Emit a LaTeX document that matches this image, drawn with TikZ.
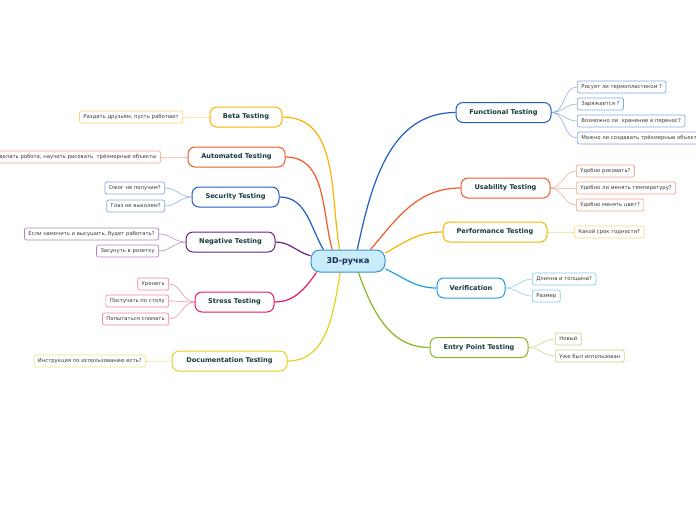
\documentclass[tikz,border=0pt]{standalone}
\usepackage{fontspec}
\setmainfont{DejaVu Sans}
\usetikzlibrary{backgrounds}
\definecolor{cblue}{HTML}{1F5FC4}
\definecolor{corange}{HTML}{F05A28}
\definecolor{camber}{HTML}{F8B400}
\definecolor{csky}{HTML}{20A0E8}
\definecolor{cgreen}{HTML}{88B820}
\definecolor{cpurple}{HTML}{6A2080}
\definecolor{cpink}{HTML}{E8186A}
\definecolor{cyellow}{HTML}{E8D020}
\definecolor{cfill}{HTML}{C8ECFA}
\definecolor{cborder}{HTML}{3A90D0}
\definecolor{maintext}{HTML}{143C3C}
\definecolor{leaftext}{HTML}{3A3A3A}
\definecolor{centertext}{HTML}{1A2A50}
\newcommand\mainfnt{\fontsize{6.6}{7.5}\selectfont\bfseries}
\newcommand\leaffnt{\fontsize{5.3}{6.3}\selectfont}
\tikzset{
  mainbox/.style={draw=#1, line width=1pt, rounded corners=7pt, fill=white, minimum height=20pt, inner sep=0pt, font=\mainfnt, text=maintext},
  leafbox/.style={draw=#1!55, line width=0.7pt, rounded corners=2pt, fill=white, minimum height=12pt, inner xsep=4pt, inner ysep=0pt, font=\leaffnt, text=leaftext},
  mainlink/.style={draw=#1, line width=1.2pt},
  leaflink/.style={draw=#1!50, line width=0.6pt},
  centerbox/.style={draw=cborder, line width=1pt, rounded corners=9pt, fill=cfill, minimum width=74pt, minimum height=22pt, inner sep=0pt, font=\fontsize{8}{9}\selectfont\bfseries, text=centertext}
}
\begin{document}
\begin{tikzpicture}[x=1pt,y=1pt]
\useasboundingbox (0,0) rectangle (696,-520);

% central node
\node[centerbox] (C) at (348,-261) {3D-ручка};

% main nodes
\node[mainbox=cblue, minimum width=95pt] (F) at (503.5,-112.5) {Functional Testing};
\node[mainbox=corange, minimum width=89pt] (U) at (505.5,-188) {Usability Testing};
\node[mainbox=camber, minimum width=104pt] (P) at (495,-232) {Performance Testing};
\node[mainbox=csky, minimum width=68pt] (V) at (471,-288) {Verification};
\node[mainbox=cgreen, minimum width=98pt] (E) at (479,-347.5) {Entry Point Testing};
\node[mainbox=camber, minimum width=72pt] (B) at (246,-117) {Beta Testing};
\node[mainbox=corange, minimum width=97pt] (A) at (236.5,-157) {Automated Testing};
\node[mainbox=cblue, minimum width=87pt] (S) at (235.5,-197) {Security Testing};
\node[mainbox=cpurple, minimum width=89pt] (N) at (230.5,-242) {Negative Testing};
\node[mainbox=cpink, minimum width=79pt] (St) at (234.5,-302) {Stress Testing};
\node[mainbox=cyellow, minimum width=115pt] (D) at (229.5,-361) {Documentation Testing};

% leaves right
\node[leafbox=cblue, anchor=west] (F1) at (577,-87) {Рисует ли термопластиком ?};
\node[leafbox=cblue, anchor=west] (F2) at (577,-104) {Заряжается ?};
\node[leafbox=cblue, anchor=west] (F3) at (577,-121) {Возможно ли\ \ хранение и перенос?};
\node[leafbox=cblue, anchor=west] (F4) at (577,-138) {Можно ли создавать трёхмерные объекты?};
\node[leafbox=corange, anchor=west] (U1) at (576,-171) {Удобно рисовать?};
\node[leafbox=corange, anchor=west] (U2) at (576,-188) {Удобно ли менять температуру?};
\node[leafbox=corange, anchor=west] (U3) at (576,-205) {Удобно менять цвет?};
\node[leafbox=camber, anchor=west] (P1) at (574,-232) {Какой срок годности?};
\node[leafbox=csky, anchor=west] (V1) at (532,-279) {Длинна и толщина?};
\node[leafbox=csky, anchor=west] (V2) at (532,-296) {Размер};
\node[leafbox=cgreen, anchor=west] (E1) at (555,-339) {Новый};
\node[leafbox=cgreen, anchor=west] (E2) at (555,-356) {Уже был использован};

% leaves left
\node[leafbox=camber, anchor=east] (B1) at (183,-117) {Раздать друзьям, пусть работают};
\node[leafbox=corange, anchor=east] (A1) at (161,-157) {Сделать робота, научить рисовать\ \ трёхмерные объекты};
\node[leafbox=cblue, anchor=east] (S1) at (165,-188) {Ожог не получим?};
\node[leafbox=cblue, anchor=east] (S2) at (165,-206) {Глаз не выколем?};
\node[leafbox=cpurple, anchor=east] (N1) at (159,-234) {Если намочить и высушить, будет работать?};
\node[leafbox=cpurple, anchor=east] (N2) at (159,-251) {Засунуть в розетку};
\node[leafbox=cpink, anchor=east] (St1) at (169,-284) {Уронить};
\node[leafbox=cpink, anchor=east] (St2) at (169,-301) {Постучать по столу};
\node[leafbox=cpink, anchor=east] (St3) at (169,-319) {Попытаться сломать};
\node[leafbox=cyellow, anchor=east] (D1) at (146,-361) {Инструкция по использованию есть?};

\begin{scope}[on background layer]
\fill[white] (0,0) rectangle (696,-520);
% main connectors
\draw[mainlink=cblue] (C.51) to[out=78,in=180] (F.west);
\draw[mainlink=corange] (C.27) to[out=50,in=180] (U.west);
\draw[mainlink=camber] (C.12) to[out=30,in=180] (P.west);
\draw[mainlink=csky] (C.-12) to[out=-25,in=180] (V.west);
\draw[mainlink=cgreen] (C.-48) to[out=-70,in=180] (E.west);
\draw[mainlink=camber] (C.126) to[out=100,in=0] (B.east);
\draw[mainlink=corange] (C.144) to[out=105,in=0] (A.east);
\draw[mainlink=cblue] (C.155) to[out=120,in=0] (S.east);
\draw[mainlink=cpurple] (C.172) to[out=165,in=0] (N.east);
\draw[mainlink=cpink] (C.200) to[out=235,in=0] (St.east);
\draw[mainlink=cyellow] (C.236) to[out=260,in=0] (D.east);

% leaf connectors
\foreach \l in {F1,F2,F3,F4} \draw[leaflink=cblue] (F.east) to[out=0,in=180] (\l.west);
\foreach \l in {U1,U2,U3} \draw[leaflink=corange] (U.east) to[out=0,in=180] (\l.west);
\draw[leaflink=camber] (P.east) to[out=0,in=180] (P1.west);
\foreach \l in {V1,V2} \draw[leaflink=csky] (V.east) to[out=0,in=180] (\l.west);
\foreach \l in {E1,E2} \draw[leaflink=cgreen] (E.east) to[out=0,in=180] (\l.west);
\draw[leaflink=camber] (B.west) to[out=180,in=0] (B1.east);
\draw[leaflink=corange] (A.west) to[out=180,in=0] (A1.east);
\foreach \l in {S1,S2} \draw[leaflink=cblue] (S.west) to[out=180,in=0] (\l.east);
\foreach \l in {N1,N2} \draw[leaflink=cpurple] (N.west) to[out=180,in=0] (\l.east);
\foreach \l in {St1,St2,St3} \draw[leaflink=cpink] (St.west) to[out=180,in=0] (\l.east);
\draw[leaflink=cyellow] (D.west) to[out=180,in=0] (D1.east);
\end{scope}
\end{tikzpicture}
\end{document}
